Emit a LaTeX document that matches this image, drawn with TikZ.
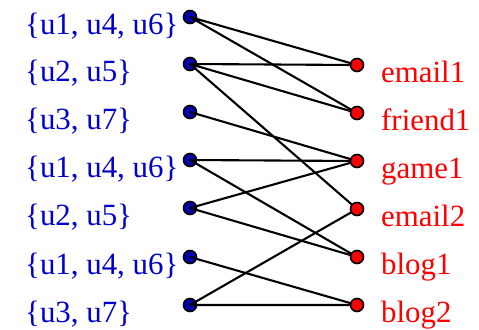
\documentclass[tikz,border=0pt]{standalone}
\usepackage{fontspec}
\setmainfont{Liberation Serif}
\definecolor{ldot}{RGB}{0,0,175}
\definecolor{ltext}{RGB}{0,0,200}
\definecolor{rdot}{RGB}{255,0,0}
\tikzset{
  dotbase/.style={circle,draw=black,line width=1.6bp,inner sep=0pt,minimum size=13bp},
  bluedot/.style={dotbase,fill=ldot},
  reddot/.style={dotbase,fill=rdot},
  edge/.style={line width=2.1bp,black},
  ltxt/.style={anchor=base west,inner sep=0pt,text=ltext,font=\fontsize{31}{36}\selectfont},
  rtxt/.style={anchor=base west,inner sep=0pt,text=red,font=\fontsize{31}{36}\selectfont}
}
\begin{document}
\begin{tikzpicture}[x=1bp,y=-1bp]
\useasboundingbox (0,0) rectangle (479,329);
% left dots
\foreach \i/\y in {1/17,2/64,3/112,4/160,5/208,6/257,7/305}{
  \node[bluedot] (l\i) at (190,\y) {};
}
% right positions
\foreach \i/\y in {1/65,2/113,3/161,4/209,5/257,6/305}{
  \coordinate (r\i) at (357,\y);
}
% edges
\draw[edge] (l1.center) -- (r1) (l1.center) -- (r2);
\draw[edge] (l2.center) -- (r1) (l2.center) -- (r2) (l2.center) -- (r4);
\draw[edge] (l3.center) -- (r3);
\draw[edge] (l4.center) -- (r3) (l4.center) -- (r5);
\draw[edge] (l5.center) -- (r3) (l5.center) -- (r5);
\draw[edge] (l6.center) -- (r6);
\draw[edge] (l7.center) -- (r4) (l7.center) -- (r6);
% right dots
\foreach \i in {1,...,6}{
  \node[reddot] (R\i) at (r\i) {};
}
% left labels
\node[ltxt] (t1) at (25,34) {\{u1, u4, u6\}};
\node[ltxt] (t2) at (25,81) {\{u2, u5\}};
\node[ltxt] (t3) at (25,129) {\{u3, u7\}};
\node[ltxt] (t4) at (25,177) {\{u1, u4, u6\}};
\node[ltxt] (t5) at (25,225) {\{u2, u5\}};
\node[ltxt] (t6) at (25,274) {\{u1, u4, u6\}};
\node[ltxt] (t7) at (25,322) {\{u3, u7\}};
% right labels
\node[rtxt] (s1) at (381,82) {email1};
\node[rtxt] (s2) at (381,130) {friend1};
\node[rtxt] (s3) at (381,178) {game1};
\node[rtxt] (s4) at (381,226) {email2};
\node[rtxt] (s5) at (381,274) {blog1};
\node[rtxt] (s6) at (381,322) {blog2};
\end{tikzpicture}
\end{document}
